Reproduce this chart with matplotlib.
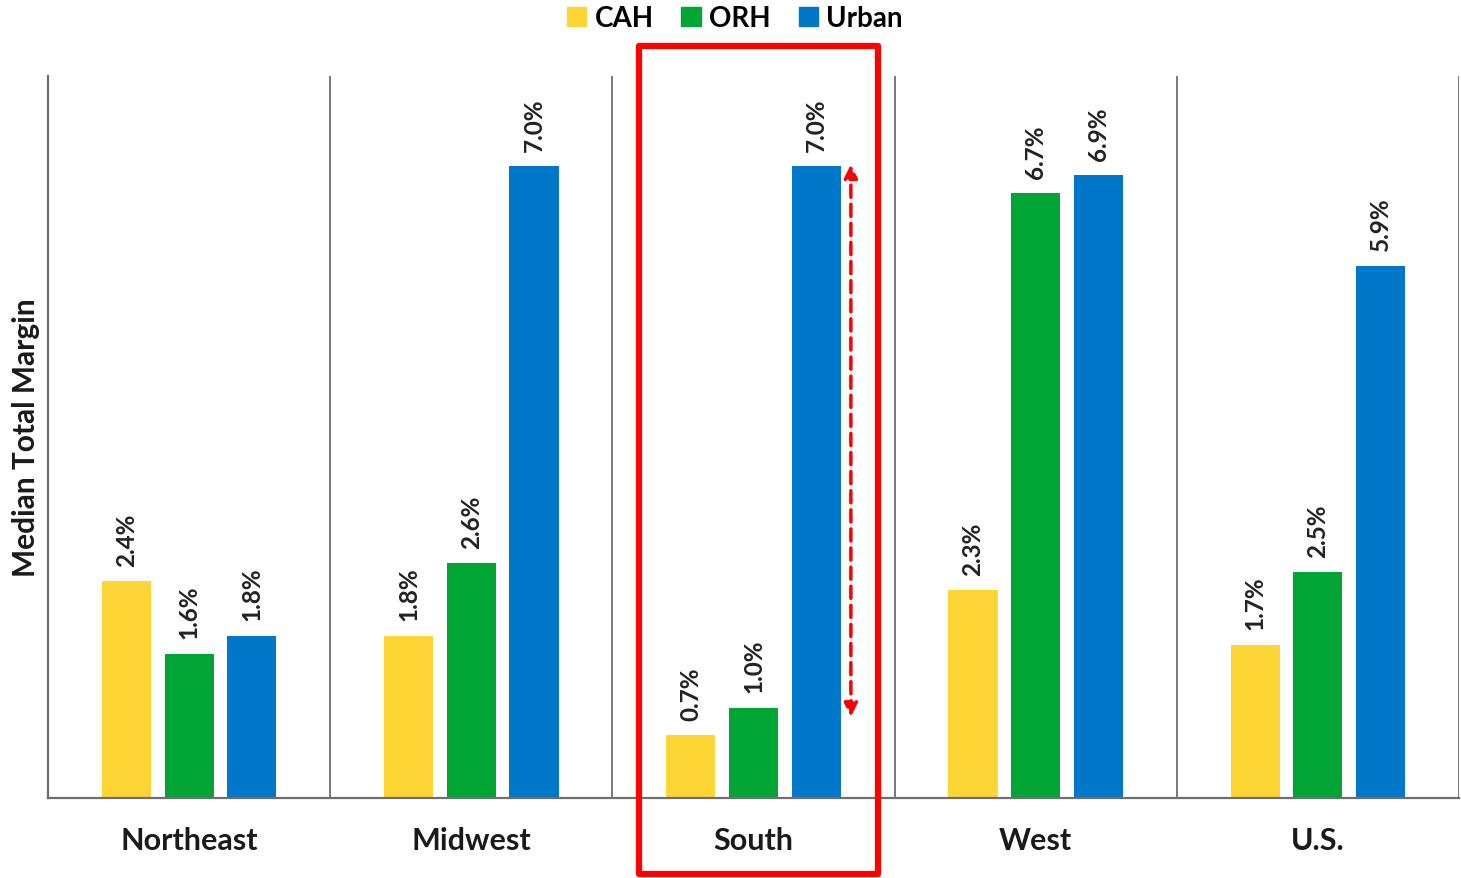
import numpy as np
import matplotlib
matplotlib.use("Agg")
import matplotlib.pyplot as plt
from matplotlib.patches import Rectangle, Patch

plt.rcParams['font.family'] = ['Lato', 'DejaVu Sans']

regions = ["Northeast", "Midwest", "South", "West", "U.S."]
series = ["CAH", "ORH", "Urban"]
cah = [2.4, 1.8, 0.7, 2.3, 1.7]
orh = [1.6, 2.6, 1.0, 6.7, 2.5]
urban = [1.8, 7.0, 7.0, 6.9, 5.9]
colors = ["#FDD535", "#00A535", "#0077C8"]

fig = plt.figure(figsize=(14.61, 8.79), dpi=100)
ax = fig.add_axes([0.0329, 0.091, 0.9657, 0.8214])

centers = np.arange(len(regions)) + 0.5
offsets = [-0.222, 0.0, 0.222]
width = 0.174
for vals, off, col in zip([cah, orh, urban], offsets, colors):
    bars = ax.bar(centers + off, vals, width, color=col, zorder=2)
    for b, v in zip(bars, vals):
        ax.annotate(f"{v:.1f}%", (b.get_x() + b.get_width() / 2, v),
                    xytext=(0, 11), textcoords="offset points",
                    rotation=90, ha="center", va="bottom",
                    fontsize=17.5, fontweight="bold", color="#222222")

ax.set_xlim(0, len(regions))
ax.set_ylim(0, 8)
for x in range(1, len(regions) + 1):
    ax.axvline(x, color="#6e6e6e", lw=1.3, zorder=1)

for s in ["top", "right"]:
    ax.spines[s].set_visible(False)
for s in ["left", "bottom"]:
    ax.spines[s].set_color("#6e6e6e")
    ax.spines[s].set_linewidth(1.6)
ax.set_yticks([])
ax.set_xticks(centers)
ax.set_xticklabels(regions, fontsize=22, fontweight="bold", color="#1a1a1a")
ax.tick_params(axis="x", length=0, pad=20)
ax.set_ylabel("Median Total Margin", fontsize=21.5, fontweight="bold",
              color="#1a1a1a", labelpad=6)

# highlight box around South
rect = Rectangle((2.094, -0.845), 0.848, 9.18, fill=False, edgecolor="#FF0000",
                 lw=4.5, joinstyle="round", clip_on=False, zorder=5)
ax.add_patch(rect)
ax.annotate("", xy=(2.845, 7.02), xytext=(2.845, 0.9),
            arrowprops=dict(arrowstyle="<|-|>", color="#FF0000", lw=2.5,
                            linestyle=(0, (3.5, 2)), mutation_scale=20,
                            shrinkA=0, shrinkB=0))

handles = [Patch(color=c, label=s) for s, c in zip(series, colors)]
fig.legend(handles=handles, loc="center", bbox_to_anchor=(0.503, 0.978),
           ncol=3, frameon=False, handlelength=0.7,
           handleheight=0.7, handletextpad=0.3, columnspacing=1.0,
           prop={"weight": "bold", "size": 20})

fig.savefig("out.png", dpi=100)
